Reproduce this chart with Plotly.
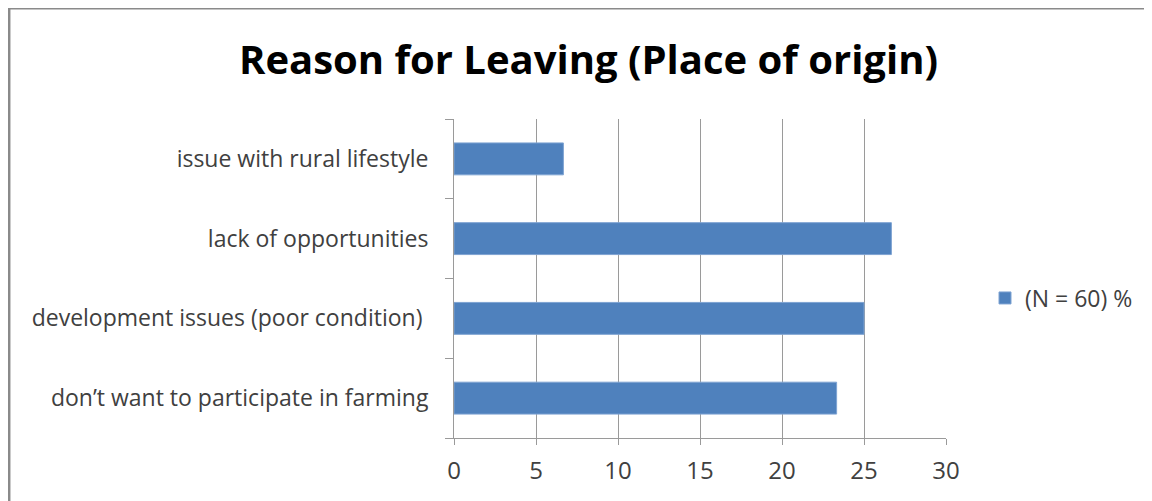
import plotly.graph_objects as go

categories = [
    "don’t want to participate in farming",
    "development issues (poor condition) ",
    "lack of opportunities",
    "issue with rural lifestyle",
]
values = [23.33, 25.0, 26.67, 6.67]
series_name = "(N = 60) %"
x_ticks = [0, 5, 10, 15, 20, 25, 30]

OFF = 8  # default page body margin
W, H = 1152 - OFF, 501 - OFF
# plot area edges in page pixels
PL, PR, PT, PB = 454, 946, 119, 438
L, R, T, B = PL - OFF, W - (PR - OFF), PT - OFF, H - (PB - OFF)
pw, ph = W - L - R, H - T - B


def px_x(p):  # page pixel -> paper x
    return (p - PL) / pw


def px_y(p):  # page pixel -> paper y
    return (PB - p) / ph


fig = go.Figure()
fig.add_trace(go.Bar(
    y=categories, x=values, orientation="h", name=series_name,
    marker=dict(color="#4F81BD", line=dict(color="#7EA3D2", width=1)),
    showlegend=True,
))

GRID = "#9a9a9a"
TXT = "#404040"

fig.update_layout(
    width=W, height=H,
    margin=dict(l=L, r=R, t=T, b=B),
    paper_bgcolor="white", plot_bgcolor="white",
    bargap=0.6,
    font=dict(family="Open Sans", color=TXT),
    title=dict(text="<b>Reason for Leaving (Place of origin)</b>",
               font=dict(family="Open Sans", size=40, color="black"),
               x=(588.5 - OFF) / W, xanchor="center",
               y=1 - (60 - OFF) / H, yanchor="middle"),
    xaxis=dict(range=[0, 30], tickvals=x_ticks, showgrid=True,
               gridcolor=GRID, gridwidth=1, showline=True,
               linecolor=GRID, ticks="outside", ticklen=6,
               tickcolor=GRID, zeroline=False, ticklabelstandoff=5,
               tickfont=dict(size=24, color=TXT)),
    yaxis=dict(showline=True, linecolor=GRID, ticks="outside",
               tickson="boundaries", ticklen=8, tickcolor=GRID,
               tickfont=dict(size=23, color=TXT), ticklabelstandoff=20,
               showgrid=False),
    legend=dict(x=px_x(985), y=px_y(298), xanchor="left", yanchor="middle",
                font=dict(size=23, color=TXT), itemwidth=30,
                bgcolor="rgba(0,0,0,0)"),
    shapes=[
        dict(type="line", xref="paper", yref="paper",
             x0=px_x(9.2), x1=px_x(9.2), y0=px_y(7), y1=px_y(520),
             line=dict(color="#8a8a8a", width=2.5)),
        dict(type="line", xref="paper", yref="paper",
             x0=px_x(8), x1=px_x(1170), y0=px_y(8.2), y1=px_y(8.2),
             line=dict(color="#8a8a8a", width=2.5)),
    ],
)

fig.write_html("out.html")
